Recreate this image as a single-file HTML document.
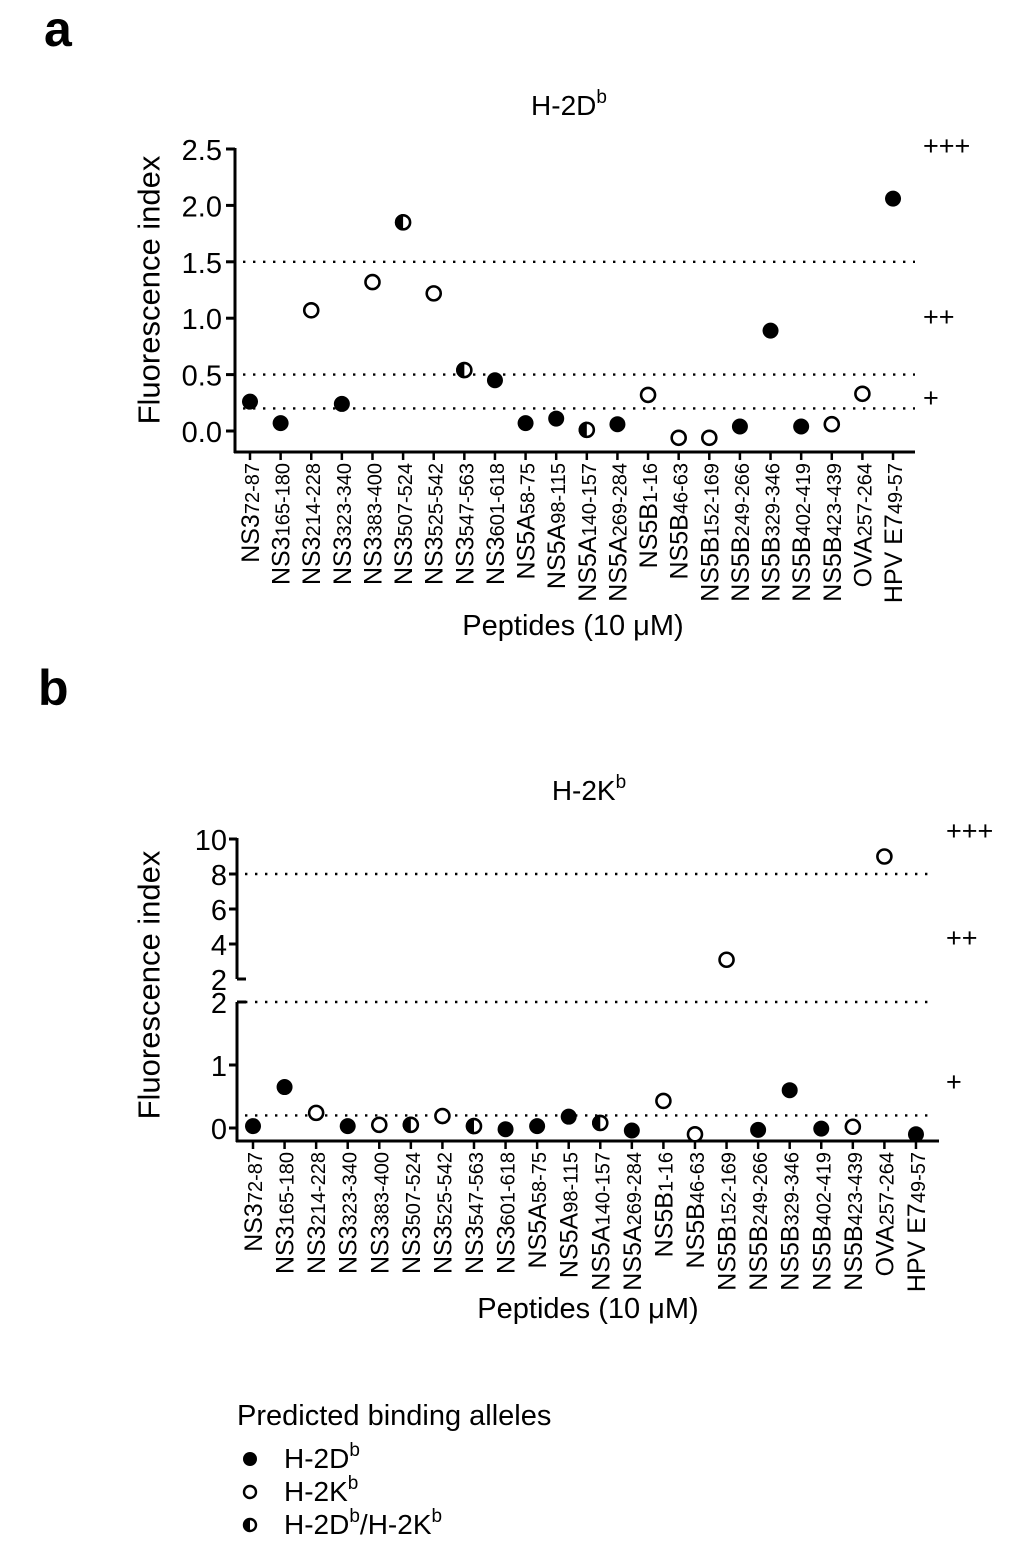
<!DOCTYPE html>
<html><head><meta charset="utf-8"><style>
body{margin:0;background:#fff}
svg text{font-family:"Liberation Sans",Arial,sans-serif;fill:#000}
</style></head><body>
<svg id="fig" width="1024" height="1557" viewBox="0 0 1024 1557">
<text x="44" y="46" font-size="50" font-weight="bold">a</text>
<text x="38" y="705" font-size="50" font-weight="bold">b</text>
<text x="569" y="115" font-size="28" text-anchor="middle">H-2D<tspan font-size="19" dy="-12">b</tspan></text>
<text x="589" y="800" font-size="28" text-anchor="middle">H-2K<tspan font-size="19" dy="-12">b</tspan></text>
<text transform="translate(149,290) rotate(-90)" font-size="31" text-anchor="middle" dominant-baseline="central">Fluorescence index</text>
<text transform="translate(149,985) rotate(-90)" font-size="31" text-anchor="middle" dominant-baseline="central">Fluorescence index</text>
<text x="573" y="635" font-size="29" text-anchor="middle">Peptides (10 μM)</text>
<text x="588" y="1318" font-size="29" text-anchor="middle">Peptides (10 μM)</text>
<text x="923" y="155" font-size="27">+++</text>
<text x="923" y="326" font-size="27">++</text>
<text x="923" y="407" font-size="27">+</text>
<text x="946" y="840" font-size="27">+++</text>
<text x="946" y="947" font-size="27">++</text>
<text x="946" y="1091" font-size="27">+</text>
<g>
<text x="237" y="1425" font-size="29">Predicted binding alleles</text>
<g><circle cx="250" cy="1459" r="7" fill="#000"/><text x="284" y="1468" font-size="28">H-2D<tspan font-size="19" dy="-12">b</tspan></text></g>
<g><circle cx="250" cy="1492" r="6" fill="#fff" stroke="#000" stroke-width="2.4"/><text x="284" y="1501" font-size="28">H-2K<tspan font-size="19" dy="-12">b</tspan></text></g>
<g><circle cx="250" cy="1525" r="6" fill="#fff" stroke="#000" stroke-width="2.4"/><path d="M250,1518 A7,7 0 0 0 250,1532 Z" fill="#000"/><text x="284" y="1534" font-size="28">H-2D<tspan font-size="19" dy="-12">b</tspan><tspan dy="12">/H-2K</tspan><tspan font-size="19" dy="-12">b</tspan></text></g>
</g>
</svg>
<script>
const labelMain=["NS3","NS3","NS3","NS3","NS3","NS3","NS3","NS3","NS3","NS5A","NS5A","NS5A","NS5A","NS5B","NS5B","NS5B","NS5B","NS5B","NS5B","NS5B","OVA","HPV E7"];
const labelSub=["72-87","165-180","214-228","323-340","383-400","507-524","525-542","547-563","601-618","58-75","98-115","140-157","269-284","1-16","46-63","152-169","249-266","329-346","402-419","423-439","257-264","49-57"];
const valuesA=[0.26,0.07,1.07,0.24,1.32,1.85,1.22,0.54,0.45,0.07,0.11,0.01,0.06,0.32,-0.06,-0.06,0.04,0.89,0.04,0.06,0.33,2.06];
const typesA=["f","f","o","f","o","h","o","h","f","f","f","h","f","o","o","o","f","f","f","o","o","f"];
const valuesB=[0.03,0.65,0.24,0.03,0.05,0.05,0.19,0.03,-0.02,0.03,0.18,0.08,-0.04,0.43,-0.1,3.1,-0.03,0.6,-0.01,0.02,9.0,-0.1];
const typesB=["f","f","o","f","o","h","o","h","f","f","f","h","f","o","o","o","f","f","f","o","o","f"];
const ticksA=[0,0.5,1,1.5,2,2.5];
const ticksBLow=[0,1,2];
const ticksBHigh=[2,4,6,8,10];
const thresholdsA=[0.2,0.5,1.5];
const thresholdsBLow=[0.2,2];
const thresholdsBHigh=[8];

const NS="http://www.w3.org/2000/svg";
const svg=document.getElementById('fig');
function mk(tag,attrs,parent){const e=document.createElementNS(NS,tag);for(const k in attrs)e.setAttribute(k,attrs[k]);(parent||svg).appendChild(e);return e;}

function marker(g,cx,cy,t){
  if(t==="f"){const c=mk('circle',{cx,cy,r:8,fill:'#000'},g);}
  else{const c=mk('circle',{cx,cy,r:7,fill:'#fff',stroke:'#000','stroke-width':2.6},g);
    
    if(t==="h"){const p=mk('path',{d:`M${cx},${cy-8.2} A8.2,8.2 0 0 0 ${cx},${cy+8.2} Z`,fill:'#000'},g);}}
}
function xLabels(g,xf,yTop){
  labelMain.forEach((m,i)=>{const x=xf(i);
    const t=mk('text',{transform:`translate(${x+9},${yTop}) rotate(-90)`,'font-size':25,'text-anchor':'end'},g);
    
    const a=mk('tspan',{},t);a.textContent=m;const b=mk('tspan',{'font-size':20},t);b.textContent=labelSub[i];});
}
function dotted(g,x1,x2,y){const l=mk('line',{x1,x2,y1:y,y2:y,stroke:'#000','stroke-width':2.4,'stroke-dasharray':'2.4 7.6','stroke-linecap':'butt'},g);
  }

// Chart A
(function(){
  const g=mk('g',{});
  const xf=i=>250+i*30.62, yf=v=>431-v*112.8;
  thresholdsA.forEach(v=>dotted(g,243,915,yf(v)));
  const ya=mk('line',{x1:235,x2:235,y1:yf(2.5)-1,y2:453,stroke:'#000','stroke-width':3},g);
  const xa=mk('line',{x1:234,x2:915,y1:452,y2:452,stroke:'#000','stroke-width':3},g);
  ticksA.forEach(v=>{mk('line',{x1:226,x2:235,y1:yf(v),y2:yf(v),stroke:'#000','stroke-width':3},g);
    const t=mk('text',{x:222,y:yf(v)+11,'font-size':29,'text-anchor':'end'},g);t.textContent=v.toFixed(1);
    });
  labelMain.forEach((m,i)=>mk('line',{x1:xf(i),x2:xf(i),y1:452,y2:460,stroke:'#000','stroke-width':2.5},g));
  xLabels(g,xf,463);
  valuesA.forEach((v,i)=>marker(g,xf(i),yf(v),typesA[i]));
})();
// Chart B
(function(){
  const g=mk('g',{});
  const xf=i=>253+i*31.57;
  const yLow=v=>1128-v*63, yHigh=v=>979-(v-2)*17.5;
  const yf=v=>v>2?yHigh(v):yLow(v);
  thresholdsBLow.forEach(v=>dotted(g,245,935,yLow(v)));
  thresholdsBHigh.forEach(v=>dotted(g,245,935,yHigh(v)));
  const y1=mk('line',{x1:237,x2:237,y1:yHigh(10)-1,y2:yHigh(2),stroke:'#000','stroke-width':3},g);
  mk('line',{x1:237,x2:246,y1:yHigh(2),y2:yHigh(2),stroke:'#000','stroke-width':3},g);
  const y2=mk('line',{x1:237,x2:237,y1:yLow(2),y2:1142,stroke:'#000','stroke-width':3},g);
  mk('line',{x1:237,x2:246,y1:yLow(2),y2:yLow(2),stroke:'#000','stroke-width':3},g);
  const xa=mk('line',{x1:236,x2:939,y1:1141,y2:1141,stroke:'#000','stroke-width':3},g);
  ticksBHigh.forEach(v=>{if(v>2)mk('line',{x1:229,x2:237,y1:yHigh(v),y2:yHigh(v),stroke:'#000','stroke-width':3},g);
    const t=mk('text',{x:227,y:yHigh(v)+11,'font-size':29,'text-anchor':'end'},g);t.textContent=v;
    });
  ticksBLow.forEach(v=>{if(v<2)mk('line',{x1:229,x2:237,y1:yLow(v),y2:yLow(v),stroke:'#000','stroke-width':3},g);
    const t=mk('text',{x:227,y:yLow(v)+11,'font-size':29,'text-anchor':'end'},g);t.textContent=v;
    });
  labelMain.forEach((m,i)=>mk('line',{x1:xf(i),x2:xf(i),y1:1141,y2:1149,stroke:'#000','stroke-width':2.5},g));
  xLabels(g,xf,1152);
  valuesB.forEach((v,i)=>marker(g,xf(i),yf(v),typesB[i]));
})();
</script>
</body></html>
